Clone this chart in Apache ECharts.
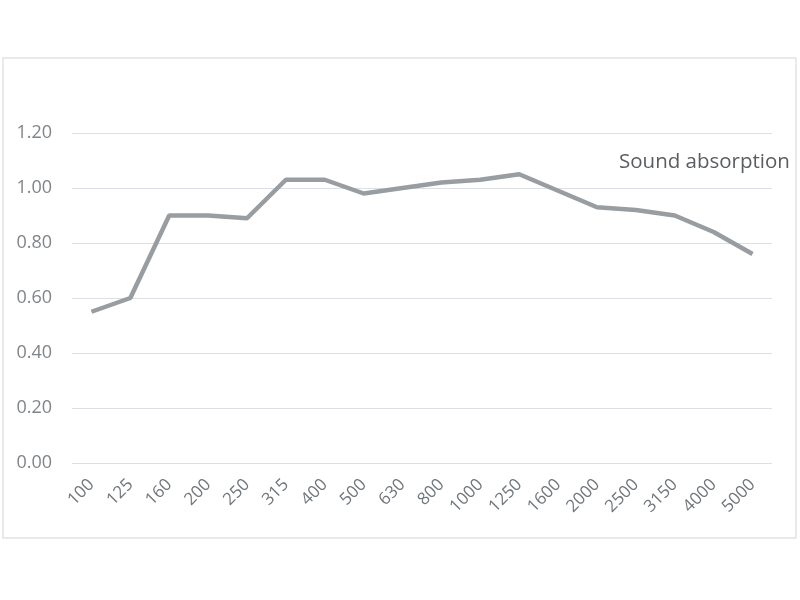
<!DOCTYPE html>
<html lang="en">
<head>
    <meta charset="UTF-8">
    <title>Sound absorption</title>
    <script src="https://cdn.jsdelivr.net/npm/echarts@6/dist/echarts.min.js"></script>
</head>
<body style="margin:0;background:#fff;">
    <div id="main" style="width:800px;height:600px;"></div>
    <script type="text/javascript">
        // frequency bands (Hz)
        var freqs = ['100', '125', '160', '200', '250', '315', '400', '500', '630', '800',
                     '1000', '1250', '1600', '2000', '2500', '3150', '4000', '5000'];
        // absorption coefficient per band
        var absorption = [0.55, 0.60, 0.90, 0.90, 0.89, 1.03, 1.03, 0.98, 1.00, 1.02,
                          1.03, 1.05, 0.99, 0.93, 0.92, 0.90, 0.84, 0.76];
        var seriesName = 'Sound absorption';

        var myChart = echarts.init(document.getElementById('main'));
        myChart.setOption({
            animation: false,
            textStyle: { fontFamily: 'Open Sans' },
            graphic: [{
                type: 'rect',
                shape: { x: 3, y: 58, width: 793, height: 480 },
                style: { fill: 'none', stroke: '#e2e4e6', lineWidth: 1.5 },
                silent: true
            }],
            title: {
                text: seriesName,
                left: 614,
                top: 147,
                textStyle: { fontSize: 20.5, fontWeight: 'normal', color: '#5a5d61' }
            },
            grid: { left: 72, right: 28, top: 133, bottom: 137 },
            xAxis: {
                type: 'category',
                data: freqs,
                axisLine: { show: false },
                axisTick: { show: false },
                axisLabel: { rotate: 45, color: '#70767c', fontSize: 17, margin: 19 }
            },
            yAxis: {
                type: 'value',
                min: 0,
                max: 1.2,
                interval: 0.2,
                axisLabel: {
                    color: '#80858a',
                    fontSize: 18,
                    margin: 20,
                    formatter: function (v) { return v.toFixed(2); }
                },
                splitLine: { lineStyle: { color: '#dcdfe3', width: 1.2 } }
            },
            series: [{
                name: seriesName,
                type: 'line',
                data: absorption,
                symbol: 'none',
                lineStyle: { color: '#989da2', width: 4.5 }
            }]
        });
    </script>
</body>
</html>
